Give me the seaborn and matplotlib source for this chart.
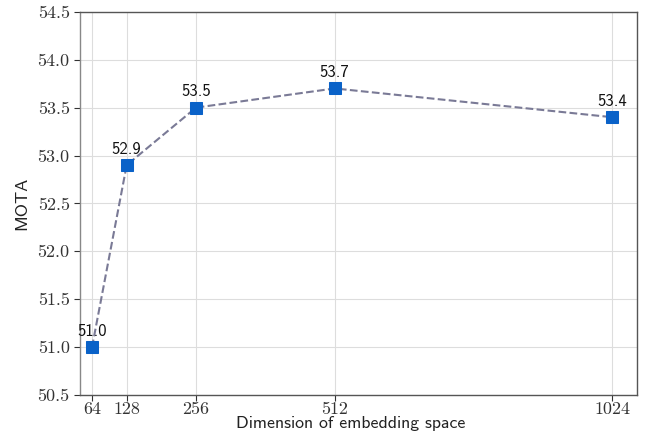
import matplotlib
matplotlib.use("Agg")
import matplotlib.pyplot as plt
import seaborn as sns
import pandas as pd
from matplotlib.ticker import FuncFormatter, FixedLocator

dims = [64, 128, 256, 512, 1024]
mota = [51.0, 52.9, 53.5, 53.7, 53.4]
yticks = [50.5, 51.0, 51.5, 52.0, 52.5, 53.0, 53.5, 54.0, 54.5]

sns.set_theme(style="whitegrid")
plt.rcParams["font.family"] = ["cmr10", "DejaVu Serif"]
plt.rcParams["axes.formatter.use_mathtext"] = True

df = pd.DataFrame({"dim": dims, "mota": mota})

fig, ax = plt.subplots(figsize=(6.46, 4.37), dpi=100)
fig.subplots_adjust(left=0.124, right=0.986, top=0.973, bottom=0.096)

sns.lineplot(data=df, x="dim", y="mota", ax=ax, color="#7a7a96", linestyle="--",
             linewidth=1.5, marker="s", markersize=8, markerfacecolor="#0a62c8",
             markeredgecolor="#0a62c8", zorder=3)

for x, y in zip(dims, mota):
    ax.annotate("%.1f" % y, (x, y), xytext=(0, 6), textcoords="offset points",
                ha="center", va="bottom", fontsize=12, color="#111111",
                family=["cmss10", "DejaVu Sans"])

ax.set_xlim(42, 1070)
ax.set_ylim(50.5, 54.5)
ax.xaxis.set_major_locator(FixedLocator(dims))
ax.yaxis.set_major_locator(FixedLocator(yticks))
ax.xaxis.set_major_formatter(FuncFormatter(lambda v, p: "%d" % v))
ax.yaxis.set_major_formatter(FuncFormatter(lambda v, p: "%.1f" % v))
ax.tick_params(axis="both", labelsize=13, colors="#333333", length=4, width=0.8,
               direction="out", left=True, bottom=True)
ax.tick_params(axis="x", pad=1)

ax.set_xlabel("Dimension of embedding space", fontsize=12.8, color="#222222", labelpad=0,
              family=["cmss10", "DejaVu Sans"])
ax.xaxis.set_label_coords(0.486, -0.055)
ax.xaxis.label.set_va("top")
ax.set_ylabel("MOTA", fontsize=13, color="#222222", labelpad=6,
              family=["cmss10", "DejaVu Sans"])

ax.grid(True, color="#dddddd", linewidth=0.8)
for s in ax.spines.values():
    s.set_visible(True)
    s.set_color("#555555")
    s.set_linewidth(1.0)
ax.spines["left"].set_color("#888888")

fig.savefig("out.png", dpi=100)
